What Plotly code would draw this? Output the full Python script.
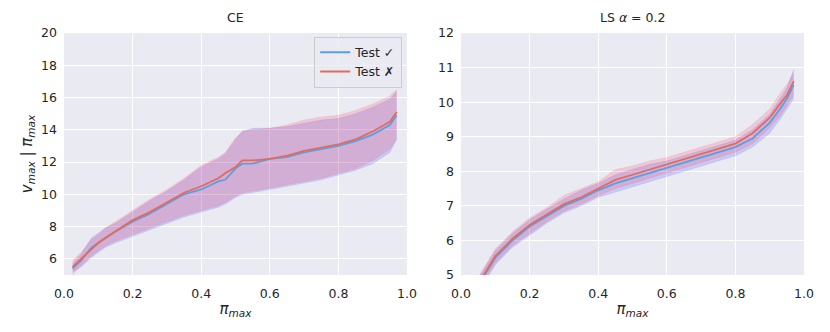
import plotly.graph_objects as go

# CE panel
ce_x = [0.025, 0.05, 0.08, 0.10, 0.12, 0.15, 0.20, 0.25, 0.30, 0.35, 0.40, 0.45, 0.47, 0.50, 0.52,
        0.55, 0.60, 0.65, 0.70, 0.75, 0.80, 0.85, 0.90, 0.95, 0.97]
ce_ok_mean = [5.4, 5.9, 6.7, 7.0, 7.3, 7.7, 8.3, 8.8, 9.4, 10.0, 10.3, 10.8, 10.9, 11.6, 11.9,
              11.9, 12.2, 12.3, 12.6, 12.8, 13.0, 13.3, 13.7, 14.3, 14.9]
ce_ok_hi = [5.7, 6.3, 7.3, 7.6, 7.9, 8.2, 8.9, 9.6, 10.2, 10.9, 11.7, 12.2, 12.5, 13.4, 13.9,
            14.1, 14.1, 14.2, 14.4, 14.6, 14.7, 15.0, 15.4, 15.9, 16.4]
ce_ok_lo = [5.2, 5.5, 6.1, 6.4, 6.7, 7.0, 7.4, 7.8, 8.2, 8.6, 8.9, 9.2, 9.4, 9.8, 10.0,
            10.1, 10.3, 10.5, 10.7, 10.9, 11.2, 11.5, 11.9, 12.6, 13.4]
ce_bad_mean = [5.5, 6.0, 6.6, 7.0, 7.3, 7.7, 8.4, 8.9, 9.5, 10.1, 10.5, 11.0, 11.3, 11.7, 12.1,
               12.1, 12.2, 12.4, 12.7, 12.9, 13.1, 13.4, 13.9, 14.5, 15.1]
ce_bad_hi = [5.9, 6.4, 7.2, 7.5, 7.9, 8.3, 9.0, 9.7, 10.3, 11.0, 11.8, 12.3, 12.6, 13.5, 13.9,
             14.0, 14.1, 14.3, 14.6, 14.8, 14.9, 15.2, 15.6, 16.1, 16.5]
ce_bad_lo = [5.0, 5.6, 6.2, 6.5, 6.8, 7.1, 7.5, 7.9, 8.3, 8.7, 9.0, 9.3, 9.5, 9.9, 10.1,
             10.2, 10.4, 10.6, 10.8, 11.0, 11.3, 11.6, 12.1, 12.8, 13.5]

# LS alpha=0.2 panel
ls_x = [0.025, 0.05, 0.066, 0.10, 0.15, 0.20, 0.25, 0.30, 0.35, 0.40, 0.45, 0.50, 0.55, 0.60,
        0.65, 0.70, 0.75, 0.80, 0.85, 0.90, 0.93, 0.95, 0.97]
ls_ok_mean = [4.2, 4.7, 4.95, 5.5, 6.0, 6.4, 6.7, 7.0, 7.2, 7.45, 7.65, 7.8, 7.95, 8.1,
              8.25, 8.4, 8.55, 8.7, 8.95, 9.4, 9.8, 10.1, 10.5]
ls_ok_hi = [4.4, 4.9, 5.15, 5.7, 6.2, 6.6, 6.9, 7.2, 7.45, 7.65, 7.9, 8.05, 8.2, 8.3,
            8.45, 8.6, 8.75, 8.9, 9.2, 9.65, 10.1, 10.4, 10.95]
ls_ok_lo = [4.0, 4.5, 4.75, 5.3, 5.8, 6.15, 6.5, 6.8, 7.0, 7.25, 7.4, 7.55, 7.7, 7.85,
            8.0, 8.15, 8.3, 8.45, 8.7, 9.1, 9.5, 9.8, 10.1]
ls_bad_mean = [4.3, 4.75, 5.0, 5.55, 6.05, 6.45, 6.75, 7.05, 7.25, 7.5, 7.75, 7.9, 8.05, 8.2,
               8.35, 8.5, 8.65, 8.8, 9.1, 9.55, 9.95, 10.2, 10.6]
ls_bad_hi = [4.5, 4.95, 5.2, 5.75, 6.25, 6.65, 6.95, 7.3, 7.5, 7.7, 8.05, 8.15, 8.3, 8.4,
             8.55, 8.7, 8.85, 9.0, 9.35, 9.8, 10.25, 10.5, 10.85]
ls_bad_lo = [4.1, 4.55, 4.8, 5.35, 5.85, 6.2, 6.55, 6.85, 7.05, 7.3, 7.5, 7.65, 7.8, 7.95,
             8.1, 8.25, 8.4, 8.55, 8.8, 9.25, 9.6, 9.9, 10.2]

blue = '#5A9FE3'
red = '#E46A5A'
blue_fill = 'rgba(40,40,255,0.17)'
red_fill = 'rgba(255,40,60,0.17)'

font = 'DejaVu Sans'
fig = go.Figure()


def add_band(x, lo, hi, fill, xa, ya):
    fig.add_trace(go.Scatter(x=x, y=lo, mode='lines', line=dict(width=0.6, color=fill),
                             showlegend=False, hoverinfo='skip', xaxis=xa, yaxis=ya))
    fig.add_trace(go.Scatter(x=x, y=hi, mode='lines', line=dict(width=0.6, color=fill),
                             fill='tonexty', fillcolor=fill, showlegend=False,
                             hoverinfo='skip', xaxis=xa, yaxis=ya))


for x, lo1, hi1, lo2, hi2, m1, m2, xa, ya, leg in [
    (ce_x, ce_ok_lo, ce_ok_hi, ce_bad_lo, ce_bad_hi, ce_ok_mean, ce_bad_mean, 'x', 'y', True),
    (ls_x, ls_ok_lo, ls_ok_hi, ls_bad_lo, ls_bad_hi, ls_ok_mean, ls_bad_mean, 'x2', 'y2', False),
]:
    add_band(x, lo1, hi1, blue_fill, xa, ya)
    add_band(x, lo2, hi2, red_fill, xa, ya)
    fig.add_trace(go.Scatter(x=x, y=m1, mode='lines', line=dict(color=blue, width=1.8),
                             name='Test ✓', showlegend=leg, xaxis=xa, yaxis=ya))
    fig.add_trace(go.Scatter(x=x, y=m2, mode='lines', line=dict(color=red, width=1.8),
                             name='Test ✗', showlegend=leg, xaxis=xa, yaxis=ya))

pi_max = '<i>π<sub>max</sub></i>'
axis_common = dict(showgrid=True, gridcolor='white', gridwidth=1.2, zeroline=False,
                   showline=False, ticks='', automargin=False,
                   tickfont=dict(size=12.5, color='#262626'))

# page body has an 8px margin, so the figure is 8px smaller and shifted
fig.update_layout(
    width=822, height=324,
    margin=dict(l=56, r=26, t=25, b=57),
    paper_bgcolor='white', plot_bgcolor='#EAEAF2',
    font=dict(family=font, size=12.5, color='#262626'),
    xaxis=dict(domain=[0, 0.4635], range=[0, 1], dtick=0.2, tickformat='.1f',
               ticklabelstandoff=9, title=dict(text=pi_max, standoff=3), **axis_common),
    yaxis=dict(range=[5, 20], tickvals=[6, 8, 10, 12, 14, 16, 18, 20], ticklabelstandoff=6,
               title=dict(text='<i>v<sub>max</sub></i> | ' + pi_max, standoff=4), **axis_common),
    xaxis2=dict(domain=[0.5365, 1], range=[0, 1], dtick=0.2, tickformat='.1f', anchor='y2',
                ticklabelstandoff=9, title=dict(text=pi_max, standoff=3), **axis_common),
    yaxis2=dict(range=[5, 12], dtick=1, anchor='x2', ticklabelstandoff=6, **axis_common),
    legend=dict(x=0.457, y=0.985, xanchor='right', yanchor='top', traceorder='normal',
                bgcolor='rgba(234,234,242,0.8)', bordercolor='#CCCCCC', borderwidth=1,
                font=dict(size=12.5, color='#262626'), tracegroupgap=0),
    annotations=[
        dict(text='CE', x=0.2318, y=1, xref='paper', yref='paper', xanchor='center',
             yanchor='bottom', yshift=6, showarrow=False, font=dict(size=12.5)),
        dict(text='LS <i>α</i> = 0.2', x=0.7683, y=1, xref='paper', yref='paper',
             xanchor='center', yanchor='bottom', yshift=6, showarrow=False, font=dict(size=12.5)),
    ],
)

fig.write_html('out.html')
